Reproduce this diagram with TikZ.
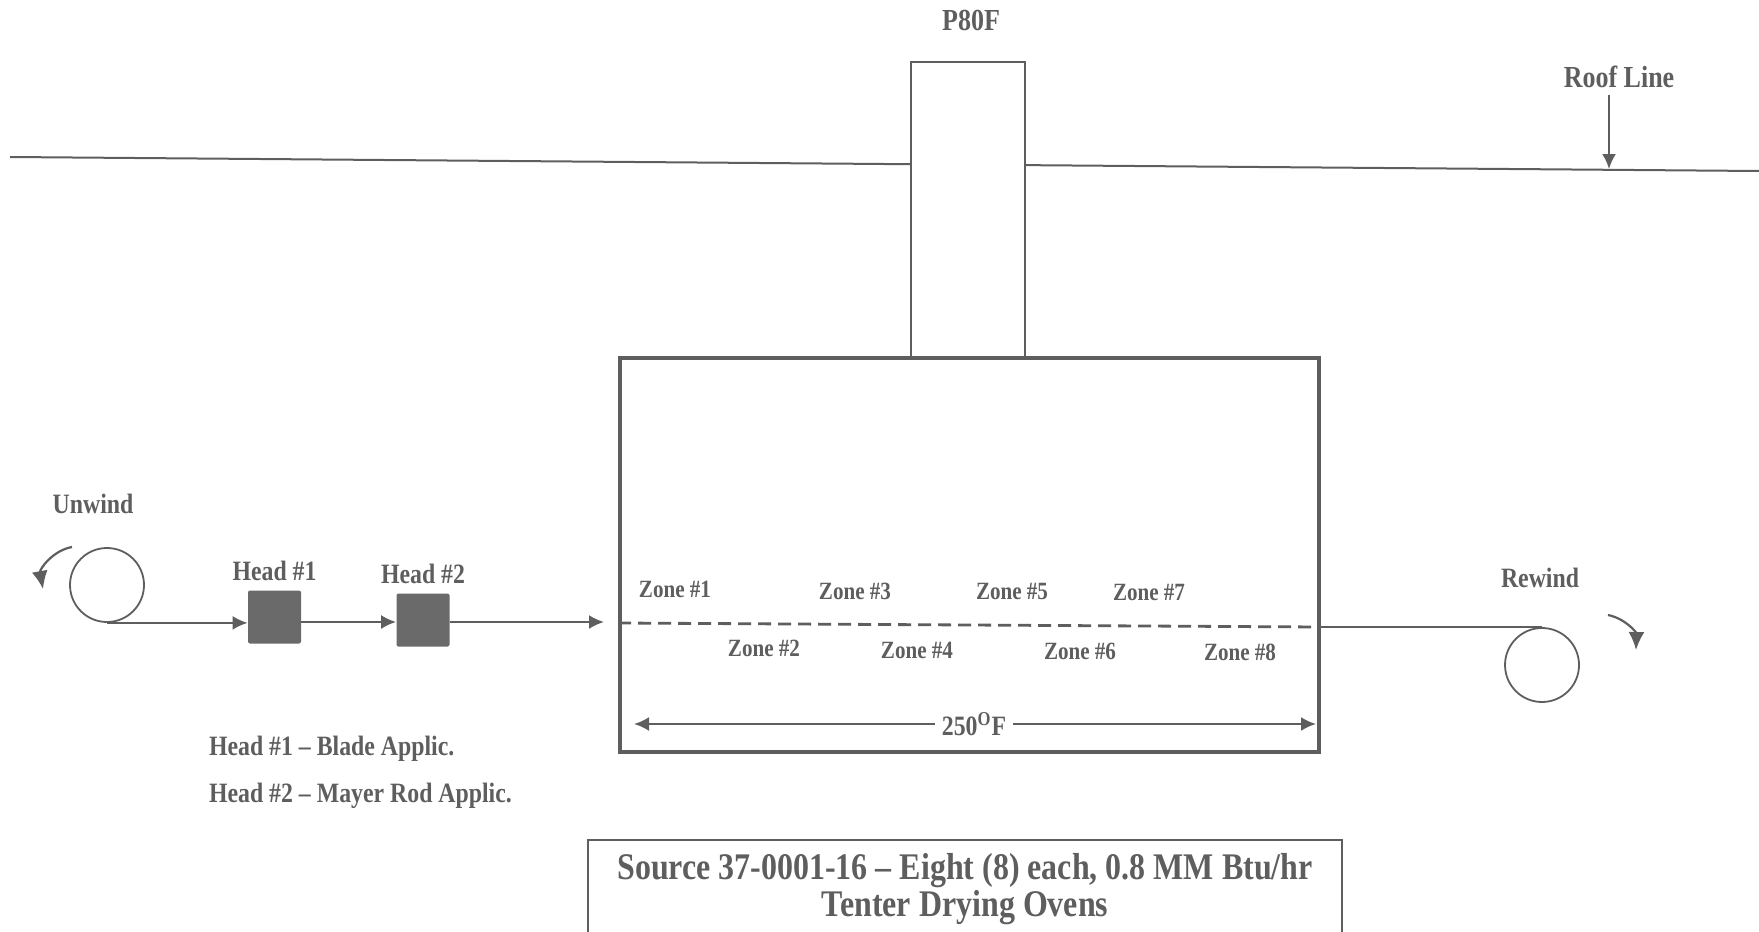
\documentclass[tikz,border=0pt]{standalone}
\usepackage{fontspec}
\setmainfont{Liberation Serif}[FakeStretch=0.85]
\usepackage{xcolor}
\usepackage{tikz}
\usetikzlibrary{arrows.meta, positioning}

\definecolor{scan}{HTML}{5E5E5E}
\definecolor{headgray}{HTML}{6A6A6A}

\begin{document}
\begin{tikzpicture}[
    x=0.5pt, y=-0.5pt,
    every node/.style={font=\bfseries, text=scan},
    line/.style={draw=scan, line width=1pt},
    box/.style={draw=scan, line width=1pt, inner sep=0pt},
    oven/.style={box, line width=1.8pt},
    head/.style={fill=headgray, rounded corners=1pt, minimum width=26.5pt, minimum height=26.5pt, inner sep=0pt},
    roller/.style={circle, draw=scan, line width=0.9pt, minimum size=37pt, inner sep=0pt},
    flow/.style={-{Latex[length=7.5pt, width=7pt]}, draw=scan, line width=1.1pt},
    turn/.style={-{Latex[length=9pt, width=8pt]}, draw=scan, line width=1.1pt},
    web/.style={draw=scan, line width=1.4pt, dash pattern=on 6.5pt off 3.5pt},
    biglbl/.style={font=\bfseries\fontsize{15.3}{17}\selectfont},
    lbl/.style={font=\bfseries\fontsize{14}{16}\selectfont},
    zonelbl/.style={font=\bfseries\fontsize{12.4}{14}\selectfont},
]
\useasboundingbox (0,0) rectangle (1759,931);

% === Roof line and stack ===
\coordinate (roofL) at (10,157);
\coordinate (roofR) at (1759,171);
\draw[line] (roofL) -- (roofR);
\node[box, fill=white, minimum width=57pt, minimum height=148.5pt] (stack) at (968,210.5) {};
\node[biglbl] (stacklbl) at (971,20) {P80F};

\node[biglbl] (rooflbl) at (1619,77) {Roof Line};
\coordinate (roofpt) at (1609,169);
\draw[flow] (roofpt |- rooflbl.south) -- (roofpt);

% === Oven ===
\node[oven, fill=white, minimum width=349.5pt, minimum height=197pt] (oven) at (969.5,555) {};

\foreach \name/\x/\y in {1/675/589, 3/855/591, 5/1012/591, 7/1149/592,
                         2/764/648, 4/917/650, 6/1080/651, 8/1240/652}
    \node[zonelbl] (zone\name) at (\x,\y) {Zone \#\name};

\coordinate (dimL) at (634,724);
\coordinate (dimR) at (1316,724);
\draw[flow, {Latex[length=7.5pt, width=7pt]}-{Latex[length=7.5pt, width=7pt]}] (dimL) -- (dimR);
\node[lbl, fill=white] (temp) at (974,724) {250\textsuperscript{O}F};

% === Unwind side ===
\coordinate (web) at (0,622);
\node[roller] (unwind) at (107,585) {};
\node[lbl] (unwindlbl) at (93,504) {Unwind};
\coordinate (uwA) at (72,547);
\coordinate (uwB) at (43,589);
\draw[turn] (uwA) to[bend right=45] (uwB);

\node[head] (head1) at (274.5,617) {};
\node[head] (head2) at (423,620) {};
\node[lbl, above=1pt of head1] (head1lbl) {Head \#1};
\node[lbl, above=1pt of head2] (head2lbl) {Head \#2};

\coordinate (ovenin) at (604,622);
\draw[flow] (unwind.south) -- (unwind.south -| head1.west);
\draw[flow] (head1.east |- web) -- (head2.west |- web);
\draw[flow] (head2.east |- web) -- (ovenin);

\node[lbl, anchor=west] (desc1) at (202,749) {Head \#1 -- Blade Applic.};
\node[lbl, anchor=west] (desc2) at (202,796) {Head \#2 -- Mayer Rod Applic.};

% === Web through oven and rewind ===
\node[roller] (rewind) at (1542,665) {};
\node[lbl] (rewindlbl) at (1540,578) {Rewind};
\draw[web] (oven.west |- 0,623) -- (oven.east |- 0,627);
\draw[line] (oven.east |- rewind.north) -- (rewind.north);
\coordinate (rwA) at (1608,615);
\coordinate (rwB) at (1636,650);
\draw[turn] (rwA) to[bend left=40] (rwB);

% === Caption ===
\node[box, minimum width=377pt, minimum height=49pt, align=center,
      font=\bfseries\fontsize{18.8}{18.5}\selectfont] (source) at (965,889)
    {Source 37-0001-16 -- Eight (8) each, 0.8 MM Btu/hr\\Tenter Drying Ovens};

\end{tikzpicture}
\end{document}
